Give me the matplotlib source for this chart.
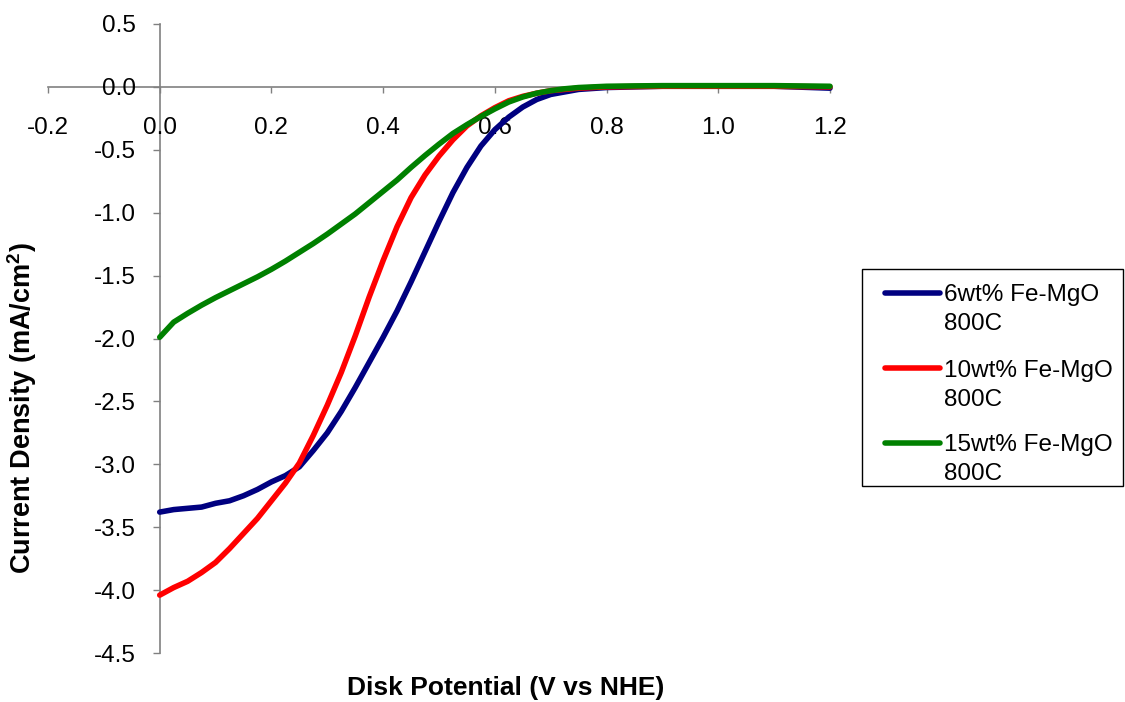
import matplotlib
matplotlib.use("Agg")
import matplotlib.pyplot as plt
from matplotlib.lines import Line2D
from matplotlib.patches import Rectangle
from matplotlib.ticker import FormatStrFormatter

plt.rcParams['font.family'] = ['Liberation Sans', 'DejaVu Sans']

# disk potential (V vs NHE)
potential = [0.0, 0.025, 0.05, 0.075, 0.1, 0.125, 0.15, 0.175, 0.2, 0.225,
             0.25, 0.275, 0.3, 0.325, 0.35, 0.375, 0.4, 0.425, 0.45, 0.475,
             0.5, 0.525, 0.55, 0.575, 0.6, 0.625, 0.65, 0.675, 0.7, 0.725,
             0.75, 0.8, 0.85, 0.9, 1.0, 1.1, 1.2]

# current density (mA/cm2)
fe6 = [-3.38, -3.36, -3.35, -3.34, -3.31, -3.29, -3.25, -3.20, -3.14, -3.09,
       -3.02, -2.89, -2.75, -2.58, -2.39, -2.19, -1.99, -1.78, -1.55, -1.31,
       -1.07, -0.84, -0.64, -0.47, -0.34, -0.24, -0.16, -0.10, -0.06, -0.04,
       -0.02, -0.005, 0.0, 0.005, 0.005, 0.005, -0.01]
fe10 = [-4.04, -3.98, -3.93, -3.86, -3.78, -3.67, -3.55, -3.43, -3.29, -3.15,
        -2.99, -2.77, -2.53, -2.27, -1.98, -1.67, -1.38, -1.11, -0.88, -0.70,
        -0.55, -0.42, -0.31, -0.23, -0.165, -0.11, -0.075, -0.05, -0.03, -0.02,
        -0.01, 0.0, 0.003, 0.005, 0.005, 0.005, 0.0]
fe15 = [-1.99, -1.87, -1.80, -1.735, -1.675, -1.62, -1.565, -1.51, -1.45, -1.385,
        -1.315, -1.245, -1.17, -1.09, -1.01, -0.92, -0.83, -0.74, -0.64, -0.545,
        -0.455, -0.37, -0.30, -0.235, -0.175, -0.12, -0.08, -0.05, -0.03, -0.015,
        -0.005, 0.005, 0.008, 0.01, 0.01, 0.01, 0.005]

labels = ['6wt% Fe-MgO\n800C', '10wt% Fe-MgO\n800C', '15wt% Fe-MgO\n800C']
colors = ['#000080', '#ff0000', '#008000']
xticks = [-0.2, 0.0, 0.2, 0.4, 0.6, 0.8, 1.0, 1.2]
yticks = [-4.5, -4.0, -3.5, -3.0, -2.5, -2.0, -1.5, -1.0, -0.5, 0.0, 0.5]

W, H = 1125, 702
fig = plt.figure(figsize=(W / 100, H / 100), dpi=100)
ax = fig.add_axes([48 / W, 1 - 653 / H, (830 - 48) / W, (653 - 24) / H])

for ys, c in zip([fe6, fe10, fe15], colors):
    ax.plot(potential, ys, color=c, lw=4, solid_capstyle='round',
            solid_joinstyle='round', clip_on=False)

ax.set_xlim(-0.2, 1.2)
ax.set_ylim(-4.5, 0.5)
ax.set_xticks(xticks)
ax.set_yticks(yticks)
ax.xaxis.set_major_formatter(FormatStrFormatter('%.1f'))
ax.yaxis.set_major_formatter(FormatStrFormatter('%.1f'))

for s in ['top', 'right']:
    ax.spines[s].set_visible(False)
ax.spines['left'].set_position(('data', 0))
ax.spines['bottom'].set_position(('data', 0))
for s in ['left', 'bottom']:
    ax.spines[s].set_color('#808080')
    ax.spines[s].set_linewidth(1.2)
    ax.spines[s].set_zorder(1)

ax.tick_params(axis='x', direction='out', length=4, width=1, color='#808080',
               pad=18, labelsize=17.5)
ax.tick_params(axis='y', direction='out', length=5, width=1, color='#808080',
               pad=12, labelsize=17.5)

fig.text(22 / W, 1 - 408 / H, 'Current Density (mA/cm$^{\\mathregular{2}}$)',
         rotation=90, ha='center', va='center', fontsize=19.5, fontweight='bold')
fig.text(506 / W, 1 - 688 / H, 'Disk Potential (V vs NHE)',
         ha='center', va='center', fontsize=19, fontweight='bold')

# legend box drawn by hand so the line sits on the first text line
fig.add_artist(Rectangle((862 / W, 1 - 486 / H), (1123 - 862) / W, (486 - 269) / H,
                         transform=fig.transFigure, fill=False, edgecolor='black', lw=1))
for i, (lab, c) in enumerate(zip(labels, colors)):
    yc = 293 + 75 * i
    fig.add_artist(Line2D([885 / W, 940 / W], [1 - yc / H, 1 - yc / H],
                          transform=fig.transFigure, color=c, lw=4,
                          solid_capstyle='round'))
    for j, line in enumerate(lab.split('\n')):
        fig.text(944 / W, 1 - (yc + 8.5 + 29 * j) / H, line, ha='left',
                 va='baseline', fontsize=17.5)

fig.savefig('out.png', dpi=100)
